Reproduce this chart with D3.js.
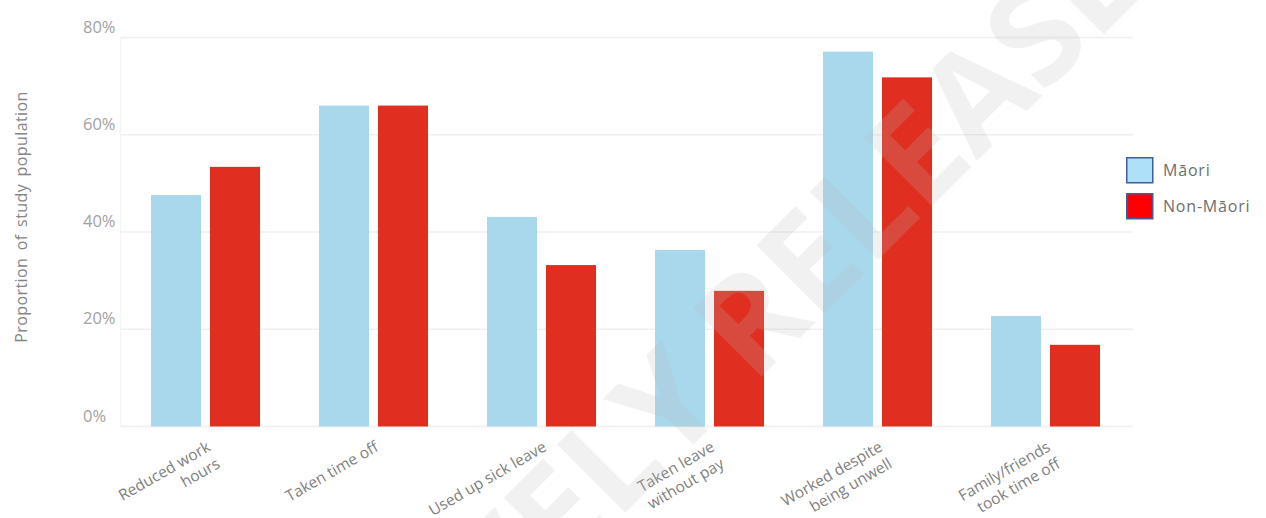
<!DOCTYPE html>
<html>
<head>
<meta charset="utf-8">
<script src="https://cdn.jsdelivr.net/npm/d3@7"></script>
<style>
  html, body { margin: 0; padding: 0; background: #fff; }
  svg { display: block; font-family: "Open Sans", "DejaVu Sans", sans-serif; }
</style>
</head>
<body>
<svg id="chart" width="1266" height="518"></svg>
<script>
// Categories (multi-line labels split on "|")
const categories = [
  "Reduced work|hours",
  "Taken time off",
  "Used up sick leave",
  "Taken leave|without pay",
  "Worked despite|being unwell",
  "Family/friends|took time off"
];
const seriesNames = ["Māori", "Non-Māori"];
const maoriValues = [47.6, 66.0, 43.1, 36.3, 77.1, 22.7];
const nonMaoriValues = [53.4, 66.0, 33.2, 27.9, 71.8, 16.8];
const yTicks = [0, 20, 40, 60, 80];
const yTickLabels = ["0%", "20%", "40%", "60%", "80%"];
const axisTitle = "Proportion of study population";
const watermarkWords = ["PROACTIVELY", "RELEASED"];

const barColors = ["#a9d8ed", "#e02e20"];
const legendColors = ["#aee0fa", "#ff0000"];

const svg = d3.select("#chart");

const plot = { left: 121.5, right: 1129.5, top: 37.5, bottom: 426.5 };

const x0 = d3.scaleBand()
  .domain(d3.range(categories.length))
  .range([plot.left, plot.right])
  .paddingInner(0.351)
  .paddingOuter(0.1755);

const x1 = d3.scaleBand()
  .domain(seriesNames)
  .range([0, x0.bandwidth()])
  .paddingInner(0.1525);

const y = d3.scaleLinear().domain([0, 80]).range([plot.bottom, plot.top]);

// Gridlines
svg.append("g")
  .selectAll("line")
  .data(yTicks)
  .join("line")
  .attr("x1", plot.left - 1)
  .attr("x2", 1133)
  .attr("y1", d => y(d))
  .attr("y2", d => y(d))
  .attr("stroke", "#efefef")
  .attr("stroke-width", 1.5);

svg.append("line")
  .attr("x1", plot.left - 1).attr("x2", plot.left - 1)
  .attr("y1", y(80)).attr("y2", y(0))
  .attr("stroke", "#f3f3f3").attr("stroke-width", 1);

// Y tick labels (left-aligned, sitting above each gridline)
svg.append("g")
  .selectAll("text")
  .data(yTicks)
  .join("text")
  .attr("x", 83)
  .attr("y", d => y(d) - 5)
  .attr("font-size", 16.5)
  .attr("fill", "#a2a2a2")
  .text((d, i) => yTickLabels[i]);

// Y axis title
svg.append("text")
  .attr("transform", `translate(27, ${y(40) - 15}) rotate(-90)`)
  .attr("text-anchor", "middle")
  .attr("font-size", 16)
  .attr("letter-spacing", 0.4)
  .attr("word-spacing", 3)
  .attr("fill", "#858585")
  .text(axisTitle);

// Bars
const rows = categories.map((c, i) => ({ i, values: [maoriValues[i], nonMaoriValues[i]] }));
const groups = svg.append("g")
  .selectAll("g")
  .data(rows)
  .join("g")
  .attr("transform", d => `translate(${x0(d.i)},0)`);

groups.selectAll("rect")
  .data(d => d.values.map((v, k) => ({ name: seriesNames[k], v, k })))
  .join("rect")
  .attr("x", d => x1(d.name))
  .attr("width", x1.bandwidth())
  .attr("y", d => y(d.v))
  .attr("height", d => y(0) - y(d.v))
  .attr("fill", d => barColors[d.k]);

// Category labels, rotated
const labels = svg.append("g")
  .selectAll("text")
  .data(categories)
  .join("text")
  .attr("transform", (d, i) => `translate(${x0(i) + x0.bandwidth() / 2 + 6}, 450) rotate(-30)`)
  .attr("text-anchor", "end")
  .attr("font-size", 15.5)
  .attr("fill", "#808080");

labels.selectAll("tspan")
  .data(d => d.split("|"))
  .join("tspan")
  .attr("x", 0)
  .attr("dy", (d, k) => k === 0 ? 0 : "1.25em")
  .text(d => d);

// Legend
const legend = svg.append("g").attr("transform", "translate(1126, 157)");
const items = legend.selectAll("g")
  .data(seriesNames)
  .join("g")
  .attr("transform", (d, i) => `translate(0, ${i * 36})`);
items.append("rect")
  .attr("x", 0.75).attr("y", 0.75)
  .attr("width", 26).attr("height", 25)
  .attr("fill", (d, i) => legendColors[i])
  .attr("stroke", "#3f5e9a")
  .attr("stroke-width", 1.5);
items.append("text")
  .attr("x", 37)
  .attr("y", 19)
  .attr("font-size", 16)
  .attr("letter-spacing", 0.8)
  .attr("fill", "#6e6e6e")
  .text(d => d);

// Diagonal watermark
const wm = svg.append("g")
  .attr("transform", "translate(753, 385) rotate(-45)")
  .attr("font-size", 135)
  .attr("font-weight", 700)
  .attr("fill", "rgba(183,183,183,0.2)")
  .attr("pointer-events", "none");
wm.append("text").attr("x", -32).attr("text-anchor", "end").text(watermarkWords[0]);
wm.append("text").attr("x", 0).attr("text-anchor", "start").text(watermarkWords[1]);
</script>
</body>
</html>
